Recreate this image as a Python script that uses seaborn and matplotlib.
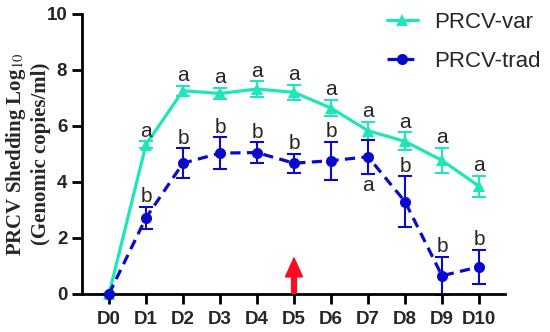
import numpy as np
import pandas as pd
import matplotlib
matplotlib.use('Agg')
import matplotlib.pyplot as plt
import seaborn as sns

days = ['D0', 'D1', 'D2', 'D3', 'D4', 'D5', 'D6', 'D7', 'D8', 'D9', 'D10']
var_mean = [0, 5.33, 7.26, 7.16, 7.32, 7.2, 6.64, 5.83, 5.45, 4.77, 3.85]
var_err = [0, 0.12, 0.18, 0.2, 0.27, 0.27, 0.29, 0.32, 0.32, 0.44, 0.38]
trad_mean = [0, 2.72, 4.67, 5.03, 5.05, 4.67, 4.76, 4.9, 3.3, 0.65, 0.97]
trad_err = [0, 0.4, 0.53, 0.56, 0.36, 0.34, 0.68, 0.6, 0.9, 0.68, 0.6]
var_letters = ['', 'a', 'a', 'a', 'a', 'a', 'a', 'a', 'a', 'a', 'a']
trad_letters = ['', 'b', 'b', 'b', 'b', 'b', 'b', 'a', 'b', 'b', 'b']

var_color = '#1EE6B8'
trad_color = '#0A0ACB'

sns.set_style('ticks')
plt.rcParams['font.family'] = ['Liberation Sans', 'DejaVu Sans']
plt.rcParams['mathtext.fontset'] = 'stix'

x = np.arange(len(days))
df = pd.DataFrame({
    'day': np.concatenate([x, x]),
    'value': var_mean + trad_mean,
    'group': ['PRCV-var'] * len(days) + ['PRCV-trad'] * len(days),
})

fig = plt.figure(figsize=(5.5, 3.32), dpi=100)
ax = fig.add_axes([0.149, 0.1145, 0.769, 0.8435])

# error bars
ax.errorbar(x, var_mean, yerr=var_err, fmt='none', ecolor=var_color,
            elinewidth=1.5, capsize=5, capthick=1.5, clip_on=False, zorder=2)
ax.errorbar(x, trad_mean, yerr=trad_err, fmt='none', ecolor=trad_color,
            elinewidth=1.5, capsize=5, capthick=1.5, clip_on=False, zorder=2)

sns.lineplot(data=df, x='day', y='value', hue='group', style='group',
             palette={'PRCV-var': var_color, 'PRCV-trad': trad_color},
             markers={'PRCV-var': '^', 'PRCV-trad': 'o'},
             dashes={'PRCV-var': '', 'PRCV-trad': (3.2, 2)},
             markersize=8, markeredgewidth=0, linewidth=2.3, ax=ax,
             legend=True, zorder=3)
for line in ax.lines:
    line.set_clip_on(False)

# significance letters
for i in range(len(days)):
    if var_letters[i]:
        ax.annotate(var_letters[i], (x[i], var_mean[i] + var_err[i]),
                    xytext=(0, 0.5), textcoords='offset points',
                    ha='center', va='bottom', fontsize=15)
    if trad_letters[i]:
        if i == 7:
            ax.annotate(trad_letters[i], (x[i], trad_mean[i] - trad_err[i]),
                        xytext=(0, -2), textcoords='offset points',
                        ha='center', va='top', fontsize=15)
        else:
            ax.annotate(trad_letters[i], (x[i], trad_mean[i] + trad_err[i]),
                        xytext=(0, 0.5), textcoords='offset points',
                        ha='center', va='bottom', fontsize=15)

# red arrow at D5
ax.arrow(5, 0, 0, 1.29, width=0.13, head_width=0.46, head_length=0.68,
         length_includes_head=True, color='#FF0A1E', zorder=4)

ax.set_xlim(-0.73, 10.7)
ax.set_ylim(0, 10)
ax.set_xticks(x)
ax.set_xticklabels(days)
ax.set_yticks([0, 2, 4, 6, 8, 10])
ax.tick_params(axis='both', width=2, length=7, labelsize=13.5, color='black')
ax.tick_params(axis='x', pad=5)
ax.tick_params(axis='y', pad=3.5)
for lab in ax.get_xticklabels() + ax.get_yticklabels():
    lab.set_fontweight('bold')
sns.despine(ax=ax)
for sp in ['left', 'bottom']:
    ax.spines[sp].set_linewidth(2)
    ax.spines[sp].set_color('black')

ax.set_xlabel('')
ax.set_ylabel('PRCV Shedding Log$_{10}$\n(Genomic copies/ml)',
              fontsize=15, fontweight='bold', family='Liberation Serif',
              linespacing=1.15)
ax.yaxis.set_label_coords(-0.074, 0.5)

handles, labels = ax.get_legend_handles_labels()
ax.legend(handles, labels, loc='upper left', bbox_to_anchor=(0.687, 0.99),
          bbox_transform=fig.transFigure, frameon=False, fontsize=16,
          handlelength=1.4, handletextpad=0.72, labelspacing=0.8,
          borderaxespad=0.0)

fig.savefig('out.png', dpi=100)
